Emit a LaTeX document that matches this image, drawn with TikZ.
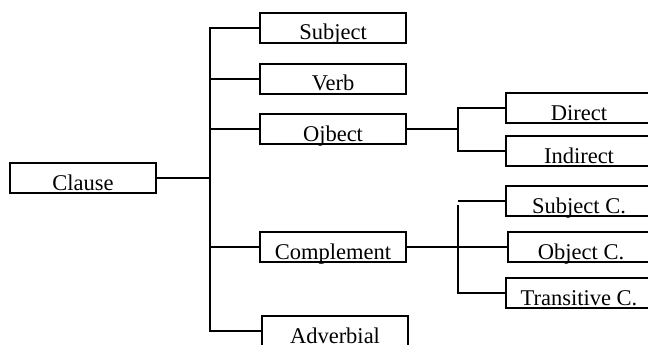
\documentclass[tikz,border=0pt]{standalone}
\usepackage{fontspec}
\setmainfont{Liberation Serif}
\begin{document}
\begin{tikzpicture}[x=1pt,y=-1pt, line width=2pt, every node/.style={draw,rectangle,minimum width=146pt,inner sep=0pt,text height=27pt,text depth=3pt,font=\fontsize{22.5}{27}\selectfont}]
\useasboundingbox (0,0) rectangle (648,345);
\node (clause) at (83,178) {Clause};
\node (subject) at (333,28) {Subject};
\node (verb) at (333,79) {Verb};
\node (object) at (333,129) {Ojbect};
\node (complement) at (333,247) {Complement};
\node (adverbial) at (335,331) {Adverbial};
\node (direct) at (579,108) {Direct};
\node (indirect) at (579,151) {Indirect};
\node (subjc) at (579,201) {Subject C.};
\node (objc) at (581,247) {Object C.};
\node (transc) at (579,293) {Transitive C.};
\coordinate (trunk) at (210,0);
\coordinate (ofork) at (458,0);
\coordinate (cfork) at (458,205);
\draw (clause.east) -- (clause.east -| trunk);
\draw (subject.west) -| (trunk |- adverbial.west) -- (adverbial.west);
\foreach \n in {verb,object,complement}
  \draw (\n.west) -- (\n.west -| trunk);
\draw (object.east) -- (object.east -| ofork);
\draw (direct.west) -| (ofork |- indirect.west) -- (indirect.west);
\draw (complement.east) -- (complement.east -| ofork);
\draw (subjc.west) -- (subjc.west -| ofork);
\draw (objc.west) -- (objc.west -| ofork);
\draw (cfork) -- (cfork |- transc.west) -- (transc.west);
\end{tikzpicture}
\end{document}
